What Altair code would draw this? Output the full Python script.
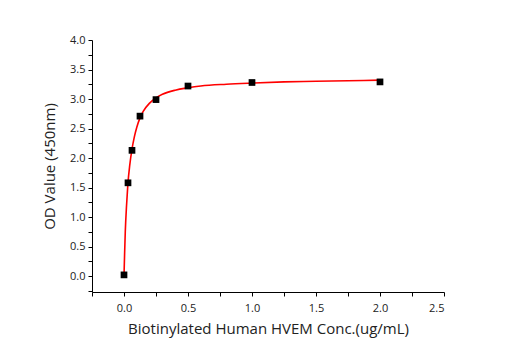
import altair as alt
import pandas as pd

conc = [0.0, 0.03125, 0.0625, 0.125, 0.25, 0.5, 1.0, 2.0]
od = [0.02, 1.58, 2.13, 2.71, 2.99, 3.22, 3.28, 3.29]

curve_x = [0.0, 0.005, 0.01, 0.02, 0.03, 0.045, 0.0625, 0.08, 0.1, 0.125, 0.15, 0.2,
           0.25, 0.3, 0.4, 0.5, 0.6, 0.8, 1.0, 1.25, 1.5, 1.75, 2.0]
curve_y = [0.0, 0.4, 0.75, 1.2, 1.55, 1.88, 2.15, 2.35, 2.52, 2.68, 2.79, 2.93,
           3.02, 3.08, 3.15, 3.19, 3.22, 3.25, 3.27, 3.29, 3.30, 3.31, 3.32]

x_ticks = [-0.25, 0.0, 0.25, 0.5, 0.75, 1.0, 1.25, 1.5, 1.75, 2.0, 2.25, 2.5]
y_ticks = [-0.25, 0.0, 0.25, 0.5, 0.75, 1.0, 1.25, 1.5, 1.75, 2.0, 2.25, 2.5,
           2.75, 3.0, 3.25, 3.5, 3.75, 4.0]

pts = pd.DataFrame({"x": conc, "y": od})
crv = pd.DataFrame({"x": curve_x, "y": curve_y})

font = "Open Sans"
xscale = alt.Scale(domain=[-0.25, 2.5], nice=False, zero=False)
yscale = alt.Scale(domain=[-0.27, 4.0], nice=False, zero=False)

label_expr = "abs(datum.value % 0.5) < 0.001 ? format(datum.value, '.1f') : ''"


def make_axis(title, values, label_pad, title_pad):
    return alt.Axis(
        title=title,
        values=values,
        labelExpr=label_expr,
        tickSize=4,
        grid=False, domain=True, domainColor="black", tickColor="black",
        labelFont=font, labelFontSize=11, labelColor="#222",
        titleFont=font, titleFontSize=15, titleFontWeight="normal", titleColor="#222",
        labelPadding=label_pad, titlePadding=title_pad, labelOverlap=False,
    )


xaxis = make_axis("Biotinylated Human HVEM Conc.(ug/mL)", x_ticks, 6, 8)
yaxis = make_axis("OD Value (450nm)", y_ticks, 3, 12)

line = alt.Chart(crv).mark_line(color="#ff0000", strokeWidth=1.6, interpolate="monotone").encode(
    x=alt.X("x:Q", scale=xscale, axis=xaxis),
    y=alt.Y("y:Q", scale=yscale, axis=yaxis),
)
points = alt.Chart(pts).mark_square(color="black", size=45, opacity=1).encode(
    x=alt.X("x:Q", scale=xscale, axis=xaxis),
    y=alt.Y("y:Q", scale=yscale, axis=yaxis),
)

chart = (line + points).properties(
    width=352, height=252,
    padding={"left": 92, "top": 40, "right": 71, "bottom": 58},
    autosize=alt.AutoSizeParams(type="none"),
    background="white",
).configure_view(stroke=None)

chart.save("out.html", embed_options={"renderer": "svg", "actions": False})
